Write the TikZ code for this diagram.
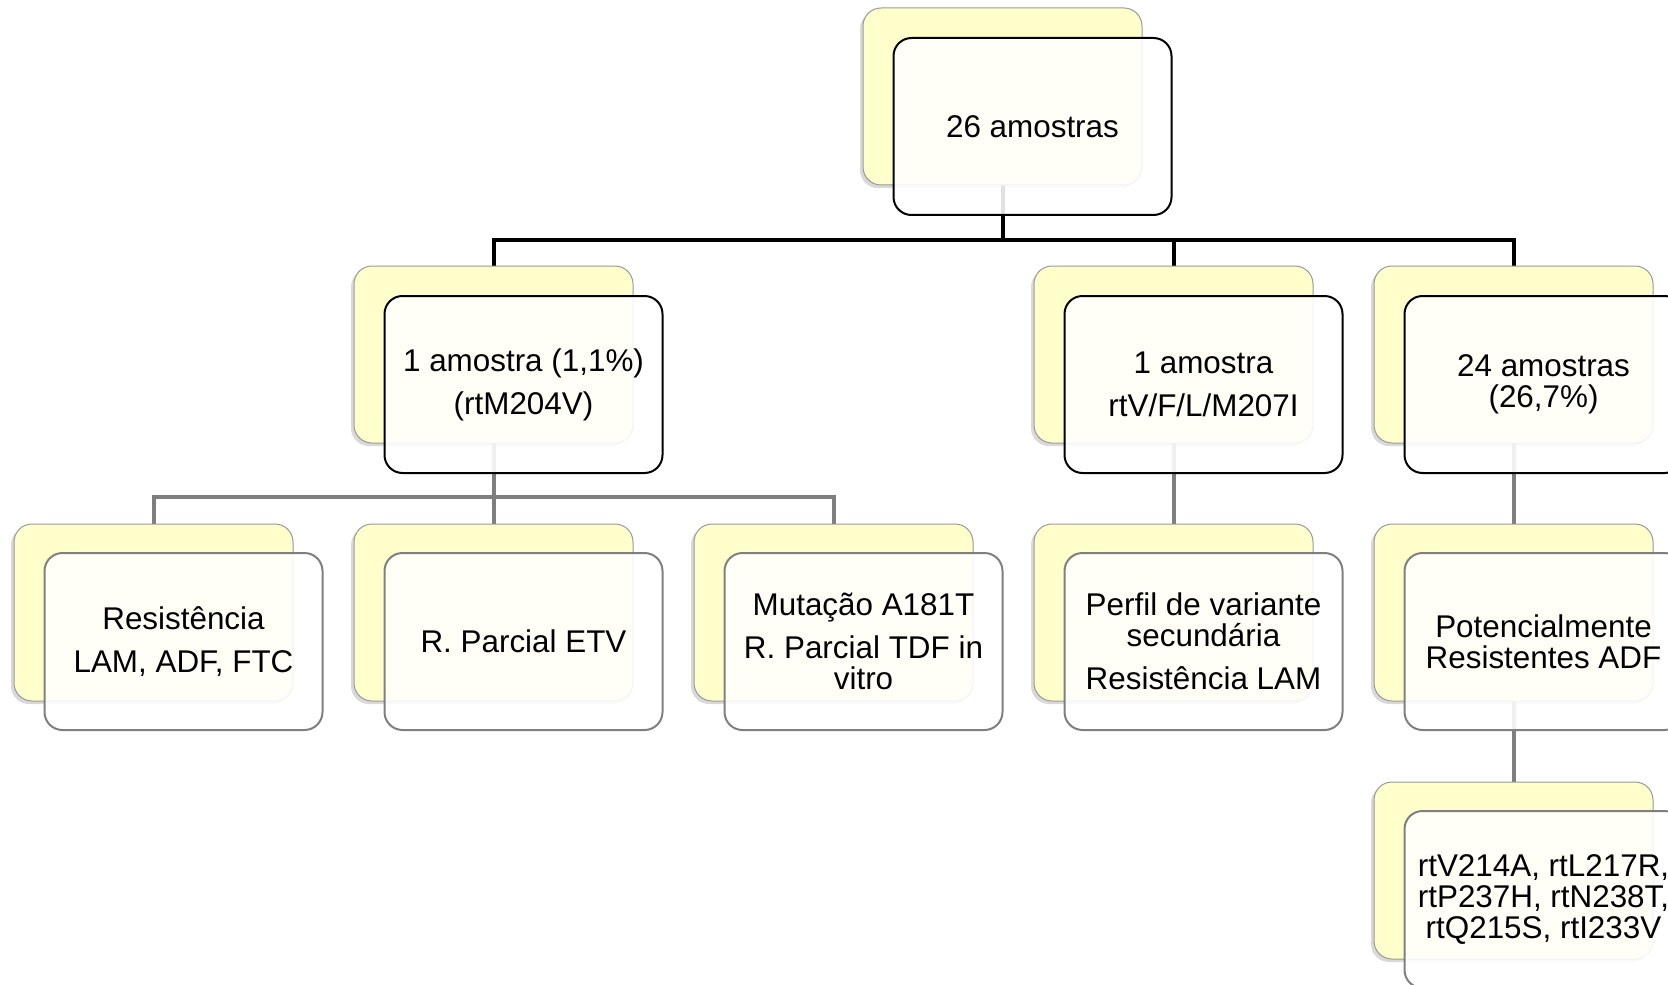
\documentclass[tikz,border=0pt]{standalone}
\usepackage{fontspec}
\setmainfont{Liberation Sans}
\usetikzlibrary{shadows,backgrounds}
\definecolor{boxyellow}{HTML}{FFFFCC}
\definecolor{linegray}{HTML}{7F7F7F}
\definecolor{edgegray}{HTML}{999999}
\begin{document}
\begin{tikzpicture}[x=0.5pt,y=-0.5pt,
  back/.style={rectangle, rounded corners=9pt, minimum width=139.5pt, minimum height=88.5pt,
    inner sep=0pt, outer sep=0pt, fill=boxyellow, draw=edgegray, line width=0.5pt,
    drop shadow={shadow xshift=-1.5pt, shadow yshift=-1.5pt, opacity=0.3}},
  front/.style={rectangle, rounded corners=9pt, minimum width=139pt, minimum height=88.5pt,
    inner sep=2pt, outer sep=0pt, fill=white, fill opacity=0.88, text opacity=1,
    draw=black, line width=1pt, align=center, font=\fontsize{15.7}{15.6}\selectfont},
  frontgray/.style={front, draw=linegray},
  conn/.style={line width=2pt, draw=black},
  conngray/.style={line width=2pt, draw=linegray},
]
\useasboundingbox (0,0) rectangle (1668,984);
\clip (0,0) rectangle (1668,984);
% row 1
\node[back] (t) at (1002.5,96.5) {};
\node[front] (tf) at (1032.5,126.5) {26 amostras};
% row 2
\node[back] (a) at (493.5,354.5) {};
\node[front] (af) at (523.5,384.5) {1 amostra (1,1\%)\\[6pt](rtM204V)};
\node[back] (b) at (1173.5,354.5) {};
\node[front] (bf) at (1203.5,384.5) {1 amostra\\[6pt]rtV/F/L/M207I};
\node[back] (c) at (1513.5,354.5) {};
\node[front] (cf) at (1543.5,384.5) {24 amostras\\(26,7\%)};
% row 3
\node[back] (a1) at (153.5,612.5) {};
\node[frontgray] (a1f) at (183.5,641.5) {Resistência\\[6pt]LAM, ADF, FTC};
\node[back] (a2) at (493.5,612.5) {};
\node[frontgray] (a2f) at (523.5,641.5) {R. Parcial ETV};
\node[back] (a3) at (833.5,612.5) {};
\node[frontgray] (a3f) at (863.5,641.5) {Mutação A181T\\[6pt]R. Parcial TDF in\\vitro};
\node[back] (b1) at (1173.5,612.5) {};
\node[frontgray] (b1f) at (1203.5,641.5) {Perfil de variante\\secundária\\[6pt]Resistência LAM};
\node[back] (c1) at (1513.5,612.5) {};
\node[frontgray] (c1f) at (1543.5,641.5) {Potencialmente\\Resistentes ADF};
% row 4
\node[back] (c2) at (1513.5,870.5) {};
\node[frontgray] (c2f) at (1543.5,899.5) {rtV214A, rtL217R,\\rtP237H, rtN238T,\\rtQ215S, rtI233V};
% connectors
\coordinate (bar1) at (0,240);
\coordinate (bar2) at (0,497);
\begin{scope}[on background layer]
\draw[conn] (t.south) -- (t.south |- bar1) -| (a.north);
\draw[conn] (t.south) -- (t.south |- bar1) -| (b.north);
\draw[conn] (t.south) -- (t.south |- bar1) -| (c.north);
\draw[conngray] (a.south) -- (a.south |- bar2) -| (a1.north);
\draw[conngray] (a.south) -- (a2.north);
\draw[conngray] (a.south) -- (a.south |- bar2) -| (a3.north);
\draw[conngray] (b.south) -- (b1.north);
\draw[conngray] (c.south) -- (c1.north);
\draw[conngray] (c1.south) -- (c2.north);
\end{scope}
\end{tikzpicture}
\end{document}
